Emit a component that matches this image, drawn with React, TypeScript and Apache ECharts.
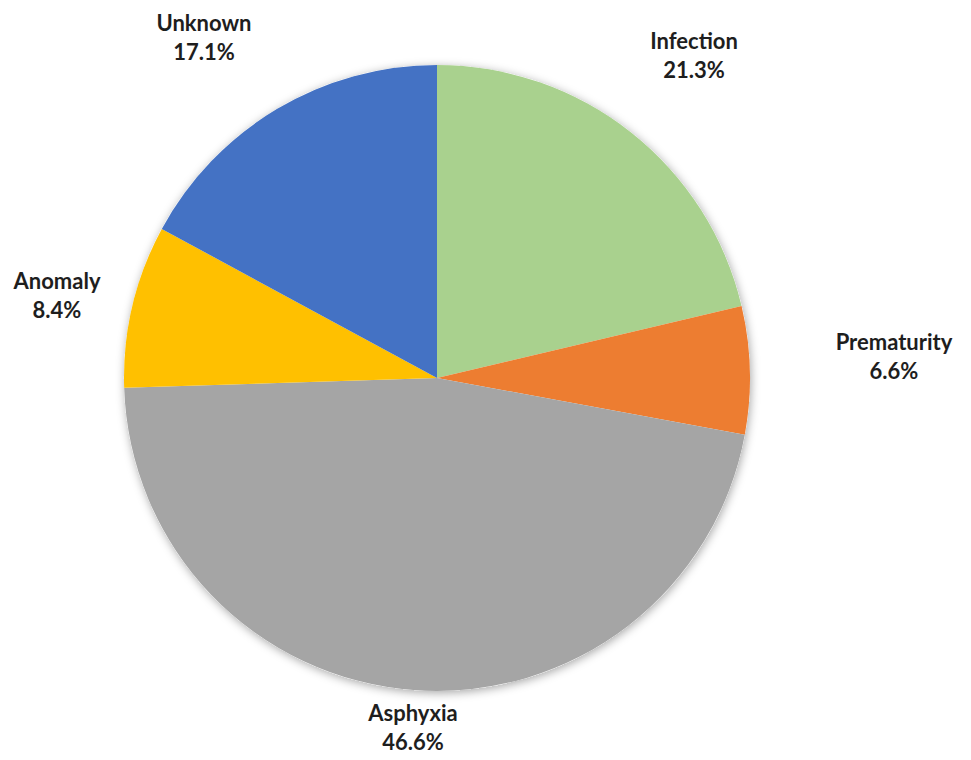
import React, { useEffect, useRef } from "react";
import * as echarts from "echarts";

const categories = ["Infection", "Prematurity", "Asphyxia", "Anomaly", "Unknown"];
const values = [21.3, 6.6, 46.6, 8.4, 17.1];
const colors = ["#A9D18E", "#ED7D31", "#A5A5A5", "#FFC000", "#4472C4"];
// label centre positions (layout only)
const labelCenters: [number, number][] = [
  [694, 55],
  [894, 356],
  [413, 727],
  [57, 295],
  [204, 37],
];

export default function App() {
  const ref = useRef<HTMLDivElement>(null);
  useEffect(() => {
    document.body.style.margin = "0";
    const chart = echarts.init(ref.current!, undefined, { renderer: "svg" });
    const center = [437, 378];
    const radius = 313;
    chart.setOption({
      animation: false,
      backgroundColor: "#ffffff",
      series: [
        {
          type: "pie",
          silent: true,
          center,
          radius,
          z: 1,
          label: { show: false },
          labelLine: { show: false },
          itemStyle: {
            color: "#ffffff",
            shadowBlur: 10,
            shadowColor: "rgba(0,0,0,0.35)",
            shadowOffsetX: 1,
            shadowOffsetY: 2,
          },
          data: [{ value: 1, name: "" }],
        },
        {
          type: "pie",
          center,
          radius,
          z: 2,
          startAngle: 90,
          clockwise: true,
          itemStyle: { borderWidth: 0 },
          labelLine: { show: false },
          label: {
            show: true,
            position: "outside",
            formatter: (p: any) => `${p.name}\n${p.value.toFixed(1)}%`,
            fontFamily: "Lato",
            fontWeight: "bold",
            fontSize: 22,
            lineHeight: 29,
            color: "#1e1e1e",
            align: "center",
            overflow: "none",
            width: 200,
          },
          labelLayout: (p: any) => {
            const c = labelCenters[p.dataIndex];
            return { x: c[0], y: c[1], align: "center", verticalAlign: "middle" };
          },
          data: categories.map((n, i) => ({
            name: n,
            value: values[i],
            itemStyle: { color: colors[i] },
          })),
        },
      ],
    });
    return () => chart.dispose();
  }, []);
  return <div ref={ref} style={{ width: 971, height: 760 }} />;
}
